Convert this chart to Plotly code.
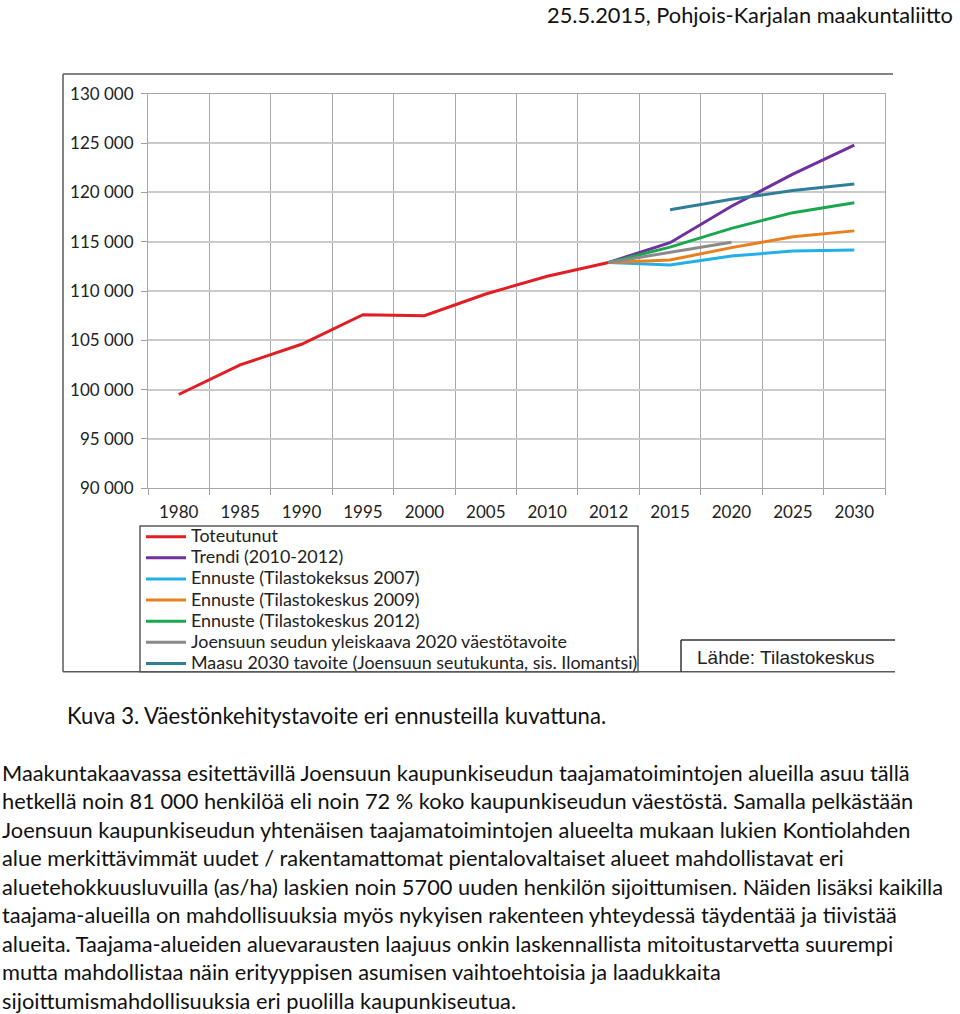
import plotly.graph_objects as go

W, H = 960, 1014

categories = ["1980", "1985", "1990", "1995", "2000", "2005", "2010", "2012",
              "2015", "2020", "2025", "2030"]

toteutunut_years = ["1980", "1985", "1990", "1995", "2000", "2005", "2010", "2012"]
toteutunut = [99500, 102500, 104600, 107600, 107500, 109700, 111500, 112900]

forecast_years = ["2012", "2015", "2020", "2025", "2030"]
trendi = [112900, 114900, 118600, 121850, 124800]
ennuste_2007 = [112900, 112650, 113550, 114050, 114150]
ennuste_2009 = [112900, 113150, 114400, 115500, 116100]
ennuste_2012 = [112900, 114450, 116350, 117950, 118950]

yleiskaava_years = ["2012", "2015", "2020"]
yleiskaava = [112900, 113900, 114950]

maasu_years = ["2015", "2020", "2025", "2030"]
maasu = [118250, 119300, 120200, 120850]

series = [
    ("Toteutunut", toteutunut_years, toteutunut, "#E01E24"),
    ("Trendi (2010-2012)", forecast_years, trendi, "#7030A0"),
    ("Ennuste (Tilastokeksus 2007)", forecast_years, ennuste_2007, "#22B0E6"),
    ("Ennuste (Tilastokeskus 2009)", forecast_years, ennuste_2009, "#E8801E"),
    ("Ennuste (Tilastokeskus 2012)", forecast_years, ennuste_2012, "#19A84E"),
    ("Joensuun seudun yleiskaava 2020 väestötavoite", yleiskaava_years, yleiskaava, "#8A8A8A"),
    ("Maasu 2030 tavoite (Joensuun seutukunta, sis. Ilomantsi)", maasu_years, maasu, "#2F7F98"),
]

header = "25.5.2015, Pohjois-Karjalan maakuntaliitto"
caption = "Kuva 3. Väestönkehitystavoite eri ennusteilla kuvattuna."
source = "Lähde: Tilastokeskus"
paragraph = [
    "Maakuntakaavassa esitettävillä Joensuun kaupunkiseudun taajamatoimintojen alueilla asuu tällä",
    "hetkellä noin 81 000 henkilöä eli noin 72 % koko kaupunkiseudun väestöstä. Samalla pelkästään",
    "Joensuun kaupunkiseudun yhtenäisen taajamatoimintojen alueelta mukaan lukien Kontiolahden",
    "alue merkittävimmät uudet / rakentamattomat pientalovaltaiset alueet mahdollistavat eri",
    "aluetehokkuusluvuilla (as/ha) laskien noin 5700 uuden henkilön sijoittumisen. Näiden lisäksi kaikilla",
    "taajama-alueilla on mahdollisuuksia myös nykyisen rakenteen yhteydessä täydentää ja tiivistää",
    "alueita. Taajama-alueiden aluevarausten laajuus onkin laskennallista mitoitustarvetta suurempi",
    "mutta mahdollistaa näin erityyppisen asumisen vaihtoehtoisia ja laadukkaita",
    "sijoittumismahdollisuuksia eri puolilla kaupunkiseutua.",
]


def px(x):
    return x / W


def py(y):
    # vertical placement, corrected for the offset seen in the rendered picture
    return 1 - ((y - 11) / 0.981) / H


FONT = "Lato, Calibri, sans-serif"

fig = go.Figure()
for name, yrs, vals, color in series:
    fig.add_trace(go.Scatter(
        x=[categories.index(y) for y in yrs], y=vals, mode="lines",
        name='<span style="font-size:17.9px">' + name + "</span>",
        line=dict(color=color, width=3),
    ))

fig.update_layout(
    width=W, height=H, margin=dict(l=0, r=0, t=0, b=0),
    paper_bgcolor="white", plot_bgcolor="white",
    separators=", ",
    font=dict(family=FONT, color="#222"),
    showlegend=True,
    legend=dict(x=px(141), y=py(522), xanchor="left", yanchor="top",
                bgcolor="rgba(0,0,0,0)", borderwidth=0,
                font=dict(family=FONT, size=13.95, color="#222"),
                itemwidth=40, tracegroupgap=0),
    xaxis=dict(
        domain=[px(148), px(885)], range=[-0.5, 11.5],
        tickmode="array", tickvals=list(range(len(categories))), ticktext=categories,
        ticks="", showgrid=False, zeroline=False,
        showline=True, linecolor="#A8A8A8", linewidth=1, mirror=True,
        tickfont=dict(family=FONT, size=17, color="#222"),
        ticklabelstandoff=8,
        minor=dict(tick0=-0.5, dtick=1, ticks="outside", ticklen=6,
                   tickcolor="#A0A0A0", showgrid=True, gridcolor="#A8A8A8", gridwidth=1),
    ),
    yaxis=dict(
        domain=[py(489), py(94)], range=[90000, 130000], dtick=5000,
        tickformat=",d", ticks="outside", ticklen=6, tickcolor="#A0A0A0",
        showgrid=True, gridcolor="#CACACA", gridwidth=2, zeroline=False,
        showline=True, linecolor="#A8A8A8", linewidth=1, mirror=True,
        tickfont=dict(family=FONT, size=17, color="#222"),
        ticklabelstandoff=4,
    ),
)

frame = "#5A5A5A"
shapes = [
    dict(type="line", x0=px(63), x1=px(893), y0=py(74), y1=py(74), line=dict(color=frame, width=1.5)),
    dict(type="line", x0=px(63), x1=px(63), y0=py(74), y1=py(673), line=dict(color=frame, width=1.5)),
    dict(type="line", x0=px(63), x1=px(895), y0=py(673), y1=py(673), line=dict(color=frame, width=1.5)),
    dict(type="rect", x0=px(140), x1=px(638), y0=py(527), y1=py(673), line=dict(color=frame, width=1.5)),
    dict(type="line", x0=px(681), x1=px(895), y0=py(641), y1=py(641), line=dict(color="#333", width=1.5)),
    dict(type="line", x0=px(681), x1=px(681), y0=py(641), y1=py(673), line=dict(color="#333", width=1.5)),
]
for s in shapes:
    s.update(xref="paper", yref="paper")
fig.update_layout(shapes=shapes)

annotations = [
    dict(text=header, x=px(955), y=py(15), xanchor="right", yanchor="middle",
         font=dict(family=FONT, size=21.8, color="#111")),
    dict(text=caption, x=px(65), y=py(717), xanchor="left", yanchor="middle",
         font=dict(family=FONT, size=22.1, color="#111")),
    dict(text=source, x=px(695), y=py(659), xanchor="left", yanchor="middle",
         font=dict(family="Liberation Sans, Arial, sans-serif", size=19, color="#222")),
]
para_y = [774, 802, 831, 859, 888, 916, 945, 973, 1002]
for line, yy in zip(paragraph, para_y):
    annotations.append(dict(text=line, x=px(0), y=py(yy), xanchor="left", yanchor="middle",
                            font=dict(family=FONT, size=21.8, color="#111")))
for a in annotations:
    a.update(xref="paper", yref="paper", showarrow=False)
fig.update_layout(annotations=annotations)

post = (
    "var d=document.getElementById('{plot_id}');"
    "d.style.position='absolute';d.style.left='0px';d.style.top='0px';"
    "document.body.style.margin='0';document.body.style.padding='0';"
    "document.documentElement.style.overflow='hidden';document.body.style.overflow='hidden';"
)
fig.write_html("out.html", config={"displayModeBar": False}, post_script=post)
